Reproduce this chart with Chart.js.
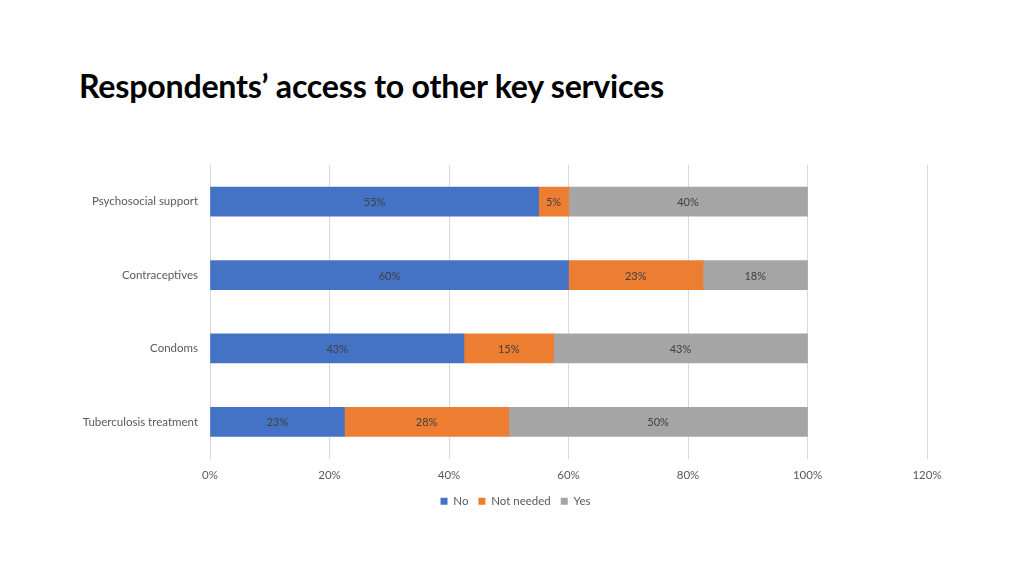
<!DOCTYPE html>
<html>
<head>
<meta charset="utf-8">
<script src="https://cdn.jsdelivr.net/npm/chart.js@4/dist/chart.umd.min.js"></script>
<style>
  html, body { margin: 0; padding: 0; background: #ffffff; }
  #wrap { position: relative; width: 1024px; height: 576px; }
  #title { position: absolute; left: 79px; top: 66px; font-family: Lato, "Open Sans", sans-serif; font-weight: bold; font-size: 32.2px; color: #000; white-space: nowrap; letter-spacing: -0.25px; }
  canvas { position: absolute; left: 0; top: 0; }
</style>
</head>
<body>
<div id="wrap">
  <div id="title">Respondents’ access to other key services</div>
  <canvas id="c" width="1024" height="576"></canvas>
</div>
<script>
const categories = ["Psychosocial support", "Contraceptives", "Condoms", "Tuberculosis treatment"];
const seriesNames = ["No", "Not needed", "Yes"];
const noValues = [55, 60, 42.5, 22.5];
const notNeededValues = [5, 22.5, 15, 27.5];
const yesValues = [40, 17.5, 42.5, 50];
const xTicks = [0, 20, 40, 60, 80, 100, 120];
const colors = ["#4472C4", "#ED7D31", "#A5A5A5"];

const FONT = "Lato, 'Open Sans', sans-serif";

const labelPlugin = {
  id: 'barLabels',
  afterDatasetsDraw(chart) {
    const ctx = chart.ctx;
    ctx.save();
    ctx.font = "11px " + FONT;
    ctx.fillStyle = "#404040";
    ctx.textAlign = "center";
    ctx.textBaseline = "middle";
    chart.data.datasets.forEach((ds, di) => {
      const meta = chart.getDatasetMeta(di);
      meta.data.forEach((bar, i) => {
        const v = ds.data[i];
        const cx = (bar.x + bar.base) / 2;
        ctx.fillText(Math.round(v) + "%", cx, bar.y + 1);
      });
    });
    ctx.restore();
  }
};

const legendShift = {
  id: 'legendShift',
  afterLayout(chart) {
    const lg = chart.legend;
    if (lg) { lg.left += 52; lg.right += 52; }
  }
};

new Chart(document.getElementById('c'), {
  type: 'bar',
  data: {
    labels: categories,
    datasets: [
      { label: seriesNames[0], data: noValues, backgroundColor: colors[0] },
      { label: seriesNames[1], data: notNeededValues, backgroundColor: colors[1] },
      { label: seriesNames[2], data: yesValues, backgroundColor: colors[2] }
    ]
  },
  options: {
    indexAxis: 'y',
    responsive: false,
    animation: false,
    layout: { padding: { left: 0, right: 97, top: 165, bottom: 59 } },
    datasets: { bar: { barThickness: 29 } },
    scales: {
      x: {
        stacked: true,
        min: 0, max: 120,
        afterBuildTicks(scale) { scale.ticks = xTicks.map(v => ({ value: v })); },
        afterFit(scale) { scale.height = 27; },
        ticks: { callback: v => v + "%", color: "#595959", font: { family: FONT, size: 11.5 }, padding: 10 },
        grid: { color: "#D9D9D9", drawTicks: false },
        border: { display: false }
      },
      y: {
        stacked: true,
        afterFit(scale) { scale.width = 210; },
        ticks: { color: "#595959", font: { family: FONT, size: 11.5 }, padding: 4 },
        grid: { display: false },
        border: { display: false }
      }
    },
    plugins: {
      legend: {
        position: 'bottom',
        labels: { boxWidth: 7, boxHeight: 7, color: "#595959", font: { family: FONT, size: 11.5 }, padding: 10 }
      },
      tooltip: { enabled: false }
    }
  },
  plugins: [labelPlugin, legendShift]
});
</script>
</body>
</html>
